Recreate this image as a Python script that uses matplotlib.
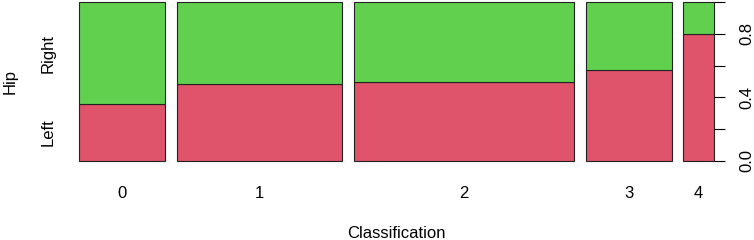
import matplotlib
matplotlib.use("Agg")
import matplotlib.pyplot as plt
import matplotlib.transforms as mtransforms
import numpy as np

plt.rcParams["font.family"] = ["Liberation Sans", "DejaVu Sans"]

# spineplot data: counts of Hip side per Classification
classes = ["0", "1", "2", "3", "4"]
left_counts = [5, 13, 18, 8, 4]
right_counts = [9, 14, 18, 6, 1]
levels = ["Left", "Right"]
colors = ["#DF536B", "#61D04F"]
right_ticks = [0.0, 0.2, 0.4, 0.6, 0.8, 1.0]
right_labels = ["0.0", "", "0.4", "", "0.8", ""]

left = np.array(left_counts, dtype=float)
right = np.array(right_counts, dtype=float)
total = left + right
widths = total / total.sum()
gap = 0.02
starts = np.concatenate([[0], np.cumsum(widths[:-1] + gap)])
left_frac = left / total

W, H = 754, 240
fig = plt.figure(figsize=(W / 100, H / 100), dpi=100)
ax = fig.add_axes([79 / W, 1 - 161 / H, (714 - 79) / W, (161 - 2) / H])

ax.bar(starts, left_frac, width=widths, align="edge", color=colors[0],
       edgecolor="#222222", linewidth=0.8, clip_on=False)
ax.bar(starts, 1 - left_frac, width=widths, bottom=left_frac, align="edge",
       color=colors[1], edgecolor="#222222", linewidth=0.8, clip_on=False)

ax.set_xlim(0, starts[-1] + widths[-1])
ax.set_ylim(0, 1)
for s in ax.spines.values():
    s.set_visible(False)

ax.set_xticks(starts + widths / 2, classes)
ax.tick_params(axis="x", length=0, pad=18, labelsize=12)
ax.set_yticks([])

# left category labels at the first bar's segment midpoints
trans = mtransforms.blended_transform_factory(fig.transFigure, ax.transData)
ax.text(48 / W, left_frac[0] / 2, levels[0], transform=trans, rotation=90,
        ha="center", va="center", fontsize=12)
ax.text(48 / W, (left_frac[0] + 1) / 2, levels[1], transform=trans, rotation=90,
        ha="center", va="center", fontsize=12)

fig.text(396 / W, 1 - 233 / H, "Classification", ha="center", va="center", fontsize=12)
fig.text(10 / W, 1 - 81 / H, "Hip", ha="center", va="center", rotation=90, fontsize=12)

ax2 = ax.twinx()
ax2.set_ylim(0, 1)
for s in ax2.spines.values():
    s.set_visible(False)
ax2.set_yticks(right_ticks, right_labels)
ax2.tick_params(axis="y", length=8, width=0.8, pad=10, labelsize=12,
                labelrotation=90)
for lbl in ax2.get_yticklabels():
    lbl.set_va("center")

fig.savefig("out.png", dpi=100)
